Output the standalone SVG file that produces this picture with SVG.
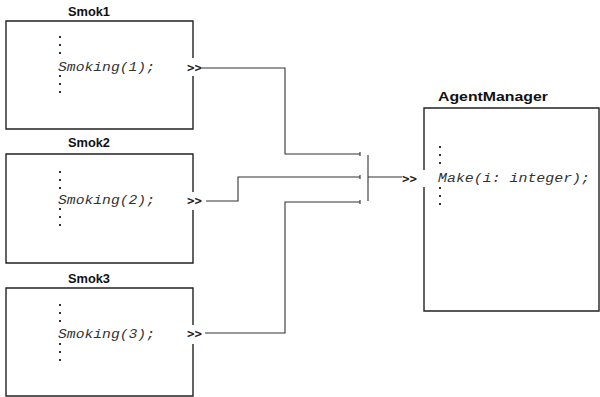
<svg xmlns="http://www.w3.org/2000/svg" width="600" height="397" viewBox="0 0 600 397">
<style>
.bg{fill:#fff}
.edge{fill:none;stroke:#222;stroke-width:1.4}
.wire{fill:none;stroke:#333;stroke-width:1.1}
.title{font-family:"Liberation Sans",Arial,sans-serif;font-weight:bold;font-size:13px;fill:#111}
.code{font-family:"Liberation Mono","DejaVu Sans Mono",monospace;font-style:italic;font-size:12px;fill:#333}
.port{font-family:"DejaVu Sans Mono","Liberation Mono",monospace;font-weight:bold;font-size:13px;fill:#222}
.dot{fill:#333}
</style>
<defs>
<g id="dots3"><rect x="0" y="0" width="2" height="2" class="dot"/><rect x="0" y="8" width="2" height="2" class="dot"/><rect x="0" y="16" width="2" height="2" class="dot"/></g>
</defs>
<rect class="bg" width="600" height="397"/>
<g id="smok1">
<text class="title" x="68" y="16" textLength="42" lengthAdjust="spacingAndGlyphs">Smok1</text>
<path class="edge" d="M193,58 V21 H6 V129 H193 V76"/>
<use href="#dots3" x="59" y="36"/>
<text class="code" x="58" y="71" textLength="97" lengthAdjust="spacingAndGlyphs">Smoking(1);</text>
<use href="#dots3" x="59" y="75"/>
<text class="port" x="187" y="72" textLength="15" lengthAdjust="spacingAndGlyphs">&gt;&gt;</text>
</g>
<g id="smok2">
<text class="title" x="68" y="147" textLength="42" lengthAdjust="spacingAndGlyphs">Smok2</text>
<path class="edge" d="M193,192 V154 H6 V263 H193 V210"/>
<use href="#dots3" x="59" y="171"/>
<text class="code" x="58" y="204" textLength="97" lengthAdjust="spacingAndGlyphs">Smoking(2);</text>
<use href="#dots3" x="59" y="208"/>
<text class="port" x="187" y="205" textLength="15" lengthAdjust="spacingAndGlyphs">&gt;&gt;</text>
</g>
<g id="smok3">
<text class="title" x="68" y="283" textLength="42" lengthAdjust="spacingAndGlyphs">Smok3</text>
<path class="edge" d="M193,325 V288 H6 V396 H193 V344"/>
<use href="#dots3" x="59" y="304"/>
<text class="code" x="58" y="338" textLength="97" lengthAdjust="spacingAndGlyphs">Smoking(3);</text>
<use href="#dots3" x="59" y="343"/>
<text class="port" x="187" y="338" textLength="15" lengthAdjust="spacingAndGlyphs">&gt;&gt;</text>
</g>
<g id="agentmanager">
<text class="title" x="438" y="101" textLength="110" lengthAdjust="spacingAndGlyphs">AgentManager</text>
<path class="edge" d="M424,170 V108 H599 V311 H424 V187"/>
<use href="#dots3" x="439" y="146"/>
<text class="code" x="438" y="182" textLength="152" lengthAdjust="spacingAndGlyphs">Make(i: integer);</text>
<use href="#dots3" x="439" y="187"/>
<text class="port" x="402" y="183" textLength="15" lengthAdjust="spacingAndGlyphs">&gt;&gt;</text>
</g>
<g id="connectors">
<path class="wire" d="M202,68 H285 V154 H360"/>
<path class="wire" d="M206,201 H238 V177 H360"/>
<path class="wire" d="M205,333 H285 V202 H360"/>
<path class="wire" d="M368,155 V201"/>
<path class="wire" d="M368,177 H402"/>
<path class="wire" d="M360,152 V156 M360,175 V179 M360,200 V204"/>
</g>
</svg>
